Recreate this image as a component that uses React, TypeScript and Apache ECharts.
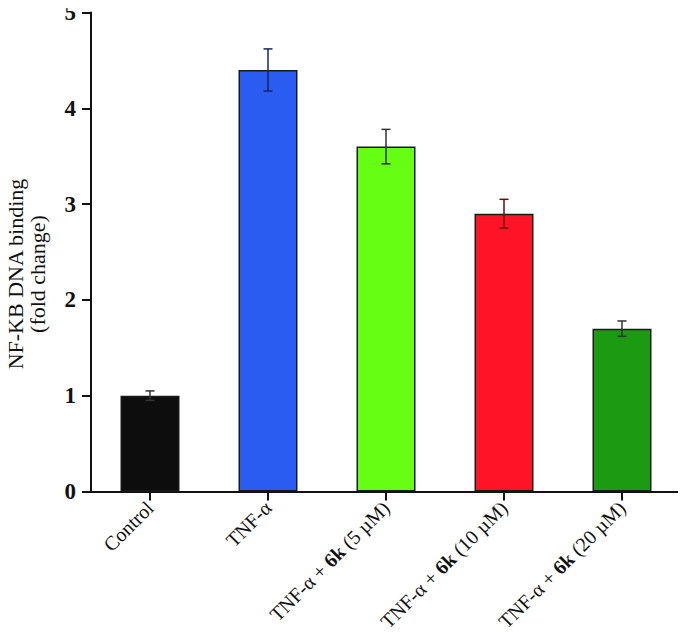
import React, { useEffect, useRef } from "react";
import * as echarts from "echarts";

const categories = [
  "Control",
  "TNF-α",
  "TNF-α + 6k (5 µM)",
  "TNF-α + 6k (10 µM)",
  "TNF-α + 6k (20 µM)",
];
const values = [1.0, 4.4, 3.6, 2.9, 1.7];
const errors = [0.05, 0.22, 0.18, 0.15, 0.08];
const barColors = ["#0d0d0d", "#2a5cf2", "#66ff14", "#ff1326", "#1c9a12"];
const errColors = ["#333333", "#1a2560", "#333333", "#6a0a12", "#333333"];
const yTicks = [0, 1, 2, 3, 4, 5];
const yTitle = "NF-KB DNA binding\n(fold change)";

const FONT = "'Liberation Serif', 'Times New Roman', serif";

export default function App() {
  const ref = useRef<HTMLDivElement>(null);
  useEffect(() => {
    if (!ref.current) return;
    const chart = echarts.init(ref.current, null, { renderer: "svg" });
    const option = {
      animation: false,
      backgroundColor: "#ffffff",
      grid: { left: 91, right: 5, top: 12.5, bottom: 146.5, containLabel: false },
      xAxis: {
        type: "category",
        data: categories,
        axisLine: { show: true, lineStyle: { color: "#111", width: 2 } },
        axisTick: { show: true, alignWithLabel: true, length: 9, lineStyle: { color: "#111", width: 2 } },
        axisLabel: {
          rotate: 45,
          margin: 13,
          interval: 0,
          fontFamily: FONT,
          fontSize: 20,
          color: "#111",
          formatter: (v: string) => v.replace("6k", "{b|6k}"),
          rich: {
            b: { fontFamily: FONT, fontSize: 20, fontWeight: "bold", color: "#111" },
          },
        },
      },
      yAxis: {
        type: "value",
        min: yTicks[0],
        max: yTicks[yTicks.length - 1],
        interval: 1,
        splitLine: { show: false },
        axisLine: { show: true, lineStyle: { color: "#111", width: 2 } },
        axisTick: { show: true, length: 9, lineStyle: { color: "#111", width: 2 } },
        axisLabel: {
          margin: 15,
          fontFamily: FONT,
          fontSize: 23,
          fontWeight: "bold",
          color: "#111",
        },
      },
      graphic: [
        {
          type: "text",
          x: 26,
          y: 274,
          rotation: Math.PI / 2,
          style: {
            text: yTitle,
            fontFamily: FONT,
            fontSize: 22,
            lineHeight: 22,
            fill: "#111",
            align: "center",
            verticalAlign: "middle",
          },
        },
      ],
      series: [
        {
          type: "bar",
          barWidth: "50%",
          data: values.map((v, i) => ({
            value: v,
            itemStyle: { color: barColors[i], borderColor: "#1a1a1a", borderWidth: 1.5 },
          })),
        },
        {
          type: "custom",
          data: values.map((v, i) => [i, v - errors[i], v + errors[i]]),
          z: 10,
          renderItem: (params: any, api: any) => {
            const i = api.value(0);
            const lo = api.coord([i, api.value(1)]);
            const hi = api.coord([i, api.value(2)]);
            const hw = 4.5;
            const style = { stroke: errColors[i], lineWidth: 1.5 };
            return {
              type: "group",
              children: [
                { type: "line", shape: { x1: hi[0], y1: hi[1], x2: lo[0], y2: lo[1] }, style },
                { type: "line", shape: { x1: hi[0] - hw, y1: hi[1], x2: hi[0] + hw, y2: hi[1] }, style },
                { type: "line", shape: { x1: lo[0] - hw, y1: lo[1], x2: lo[0] + hw, y2: lo[1] }, style },
              ],
            };
          },
        },
      ],
    };
    chart.setOption(option as any);
    return () => chart.dispose();
  }, []);
  return <div ref={ref} style={{ width: 686, height: 638, margin: -8 }} />;
}
